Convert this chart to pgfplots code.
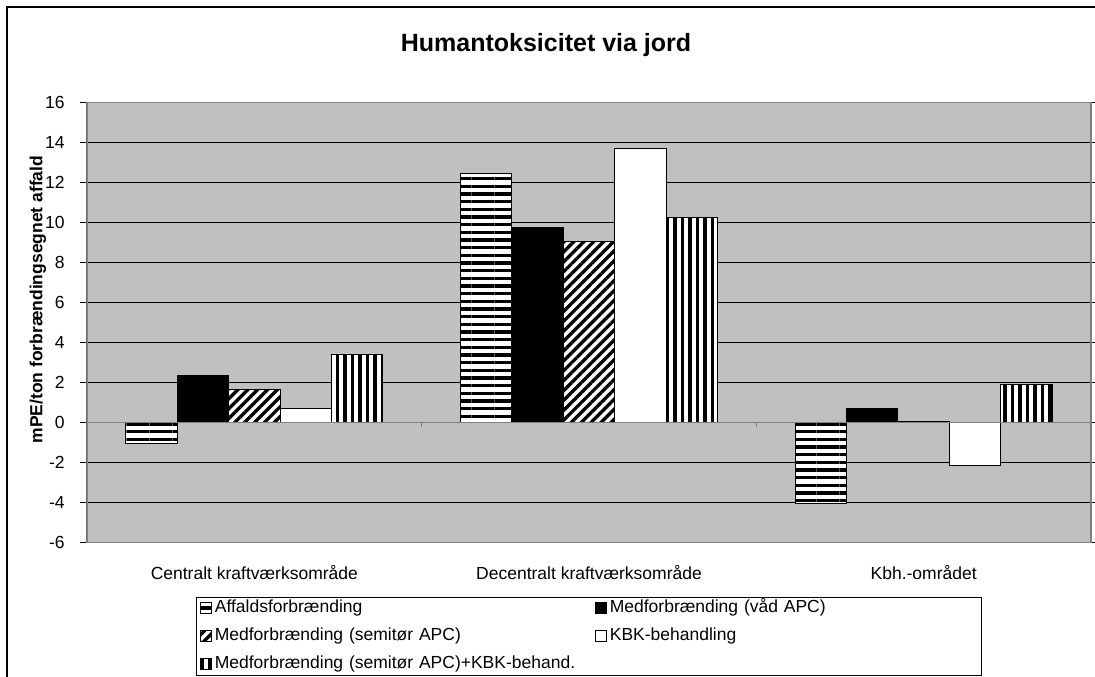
\documentclass[border=0pt]{standalone}
\usepackage{pgfplots}
\pgfplotsset{compat=1.18}
\usepackage{fontspec}
\setmainfont{Liberation Sans}
\usetikzlibrary{patterns.meta}
\definecolor{plotbg}{RGB}{192,192,192}
\definecolor{frameg}{RGB}{128,128,128}
\pgfplotsset{
  mylegend/.style={legend image code/.code={\draw[##1, line width=0.5pt] (0pt,-3pt) rectangle (6.5pt,3.5pt);}},
}
\begin{document}
\begin{tikzpicture}
\useasboundingbox (0,0) rectangle (657pt,406.2pt);
\draw[line width=0.7pt] (4.2pt,-2pt) -- (4.2pt,402pt) -- (660pt,402pt);
\begin{axis}[
  at={(52.2pt,80.8pt)}, anchor=south west,
  scale only axis, width=602.4pt, height=263.8pt,
  xmin=-0.5, xmax=2.5, ymin=-6, ymax=16,
  ytick={-6,-4,...,16},
  xtick={0,1,2},
  xticklabels={Centralt kraftværksområde, Decentralt kraftværksområde, Kbh.-området},
  x tick style={draw=none},
  y tick style={black, line width=0.6pt},
  tick align=outside, major tick length=4.2pt,
  ymajorgrids, grid style={black, line width=0.6pt},
  axis background/.style={fill=plotbg},
  axis line style={frameg, line width=0.9pt},
  tick label style={font=\fontsize{10.5}{12}\selectfont},
  /pgf/number format/assume math mode=true,
  yticklabel style={anchor=east, xshift=-5.7pt},
  xticklabel style={yshift=-6pt},
  every axis title shift=0pt,
  title={Humantoksicitet via jord},
  title style={font=\bfseries\fontsize{15}{18}\selectfont, at={(axis description cs:0.4572,1.132)}, anchor=center},
  ylabel={mPE/ton forbrændingsegnet affald},
  ylabel style={font=\bfseries\fontsize{10.5}{12}\selectfont, at={(axis description cs:-0.0488,0.552)}, anchor=center},
  legend columns=2,
  legend style={at={(0.5,-0.1243)}, anchor=north, draw=black, fill=white,
    font=\fontsize{10.5}{12}\selectfont, inner xsep=2pt, inner ysep=1.6pt, row sep=6.8pt,
    nodes={inner ysep=0pt, text height=7.6pt, text depth=2.4pt},
    /tikz/column 2/.style={text width=226pt},
    /tikz/column 4/.style={text width=219pt}},
  legend cell align=left,
]
\addplot[ybar, bar width=0.1536, bar shift=-0.3072, draw=black, line width=0.6pt, fill=white,
  postaction={pattern={Lines[angle=0,distance=4.6pt,line width=2.1pt]}}, mylegend]
  coordinates {(0,-1.03) (1,12.47) (2,-4.05)};
\addplot[ybar, bar width=0.1536, bar shift=-0.1536, draw=black, line width=0.6pt, fill=black, mylegend]
  coordinates {(0,2.37) (1,9.73) (2,0.7)};
\addplot[ybar, bar width=0.1536, bar shift=0, draw=black, line width=0.6pt, fill=white,
  postaction={pattern={Lines[angle=45,distance=4.2pt,line width=2pt]}}, mylegend]
  coordinates {(0,1.67) (1,9.05) (2,0.05)};
\addplot[ybar, bar width=0.1536, bar shift=0.1536, draw=black, line width=0.6pt, fill=white, mylegend]
  coordinates {(0,0.72) (1,13.7) (2,-2.15)};
\addplot[ybar, bar width=0.1536, bar shift=0.3072, draw=black, line width=0.6pt, fill=white,
  postaction={pattern={Lines[angle=90,distance=4.5pt,line width=2pt]}}, mylegend]
  coordinates {(0,3.42) (1,10.23) (2,1.9)};
\legend{Affaldsforbrænding, Medforbrænding (våd APC), Medforbrænding (semitør APC), KBK-behandling, Medforbrænding (semitør APC)+KBK-behand.}
\draw[frameg, line width=0.9pt] (axis cs:-0.5,0) -- (axis cs:2.5,0);
\draw[frameg, line width=0.9pt] (axis cs:0.5,0) -- ++(0pt,-3pt);
\draw[frameg, line width=0.9pt] (axis cs:1.5,0) -- ++(0pt,-3pt);
\draw[black, line width=0.6pt] (rel axis cs:0,0) -- (rel axis cs:0,1);
\end{axis}
\end{tikzpicture}
\end{document}
